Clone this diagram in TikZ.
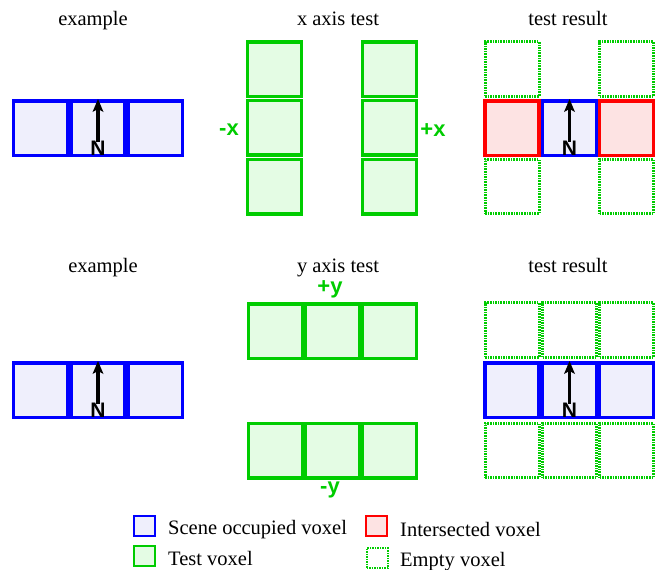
\documentclass[tikz,border=0pt]{standalone}
\usepackage{fontspec}
\setmainfont{Liberation Serif}
\newfontfamily\lblfont{Liberation Sans Bold}
\usetikzlibrary{arrows.meta}
\definecolor{vblue}{HTML}{0000FF}
\definecolor{vbluefill}{HTML}{EFEFFC}
\definecolor{vgreen}{HTML}{00CC00}
\definecolor{vgreenfill}{HTML}{E4FCE4}
\definecolor{vred}{HTML}{FF0000}
\definecolor{vredfill}{HTML}{FDE3E3}
\tikzset{
  cell/.style={rectangle, inner sep=0pt, line width=3.5pt, minimum width=54pt, minimum height=54.5pt},
  bluebox/.style={cell, draw=vblue, fill=vbluefill},
  greenbox/.style={cell, draw=vgreen, fill=vgreenfill},
  redbox/.style={cell, draw=vred, fill=vredfill},
  emptybox/.style={cell, draw=vgreen, line width=3pt, dash pattern=on 1.6pt off 1pt},
  title/.style={font=\fontsize{20.5}{24}\selectfont, anchor=base},
  axlbl/.style={font=\lblfont\fontsize{22}{26}\selectfont, text=vgreen},
  nlbl/.style={font=\lblfont\fontsize{21}{24}\selectfont, inner sep=0pt, anchor=base},
  upshaft/.style={draw=black, line width=3.5pt},
  uphead/.style={fill=black, draw=none},
  legbox/.style={rectangle, inner sep=0pt, line width=2pt, minimum width=21pt, minimum height=20pt},
  legtxt/.style={font=\fontsize{20.5}{24}\selectfont, anchor=base west, inner sep=0pt},
}
% arrow: shaft from N top to below head, then filled head
\newcommand{\uparrowfromto}[2]{%
  \path[upshaft] ([yshift=-1pt]#1.north) -- ([yshift=-10pt]#2.north);
  \path[uphead] ([yshift=0pt]#2.north) -- ([xshift=-5.5pt,yshift=-13pt]#2.north) -- ([yshift=-10pt]#2.north) -- ([xshift=5.5pt,yshift=-13pt]#2.north) -- cycle;
}
\begin{document}
\begin{tikzpicture}[x=1pt,y=-1pt]
\useasboundingbox (0,0) rectangle (657,570);
% titles
\node[title] (t1) at (93,25) {example};
\node[title] (t2) at (338,25) {x axis test};
\node[title] (t3) at (568,25) {test result};
\node[title] (t4) at (103,272) {example};
\node[title] (t5) at (338,272) {y axis test};
\node[title] (t6) at (568,272) {test result};

% top example
\node[bluebox] (ea1) at (40.5,128) {};
\node[bluebox] (ea2) at (98,128) {};
\node[bluebox] (ea3) at (155.5,128) {};
\node[nlbl] (na) at (98,155.5) {N};
\uparrowfromto{na}{ea2}

% x axis test
\node[greenbox] (xl1) at (274.5,69) {};
\node[greenbox] (xl2) at (274.5,127.5) {};
\node[greenbox] (xl3) at (274.5,186.5) {};
\node[greenbox] (xr1) at (389.5,69) {};
\node[greenbox] (xr2) at (389.5,127.5) {};
\node[greenbox] (xr3) at (389.5,186.5) {};
\node[axlbl] (mx) at (229,130) {-x};
\node[axlbl] (px) at (433,130) {+x};

% top test result
\node[emptybox] (ra1) at (512,69) {};
\node[emptybox] (ra2) at (626.5,69) {};
\node[emptybox] (ra3) at (512,186.5) {};
\node[emptybox] (ra4) at (626.5,186.5) {};
\node[redbox] (rr1) at (512,128) {};
\node[bluebox] (rb1) at (569.5,128) {};
\node[redbox] (rr2) at (626.5,128) {};
\node[nlbl] (nb) at (569.5,155.5) {N};
\uparrowfromto{nb}{rb1}

% bottom example
\node[bluebox] (eb1) at (40.5,390) {};
\node[bluebox] (eb2) at (98,390) {};
\node[bluebox] (eb3) at (155.5,390) {};
\node[nlbl] (nc) at (98,417.5) {N};
\uparrowfromto{nc}{eb2}

% y axis test
\node[greenbox] (yt1) at (275.5,331) {};
\node[greenbox] (yt2) at (332.5,331) {};
\node[greenbox] (yt3) at (389.5,331) {};
\node[greenbox] (yb1) at (275.5,450.5) {};
\node[greenbox] (yb2) at (332.5,450.5) {};
\node[greenbox] (yb3) at (389.5,450.5) {};
\node[axlbl] (py) at (330,289) {+y};
\node[axlbl] (my) at (330,490) {-y};

% bottom test result
\node[emptybox] (g11) at (512,330) {};
\node[emptybox] (g12) at (569.5,330) {};
\node[emptybox] (g13) at (626.5,330) {};
\node[emptybox] (g21) at (512,390) {};
\node[emptybox] (g22) at (569.5,390) {};
\node[emptybox] (g23) at (626.5,390) {};
\node[emptybox] (g31) at (512,450.5) {};
\node[emptybox] (g32) at (569.5,450.5) {};
\node[emptybox] (g33) at (626.5,450.5) {};
\node[bluebox] (rc1) at (512,390) {};
\node[bluebox] (rc2) at (569.5,390) {};
\node[bluebox] (rc3) at (626.5,390) {};
\node[nlbl] (nd) at (569.5,417.5) {N};
\uparrowfromto{nd}{rc2}

% legend
\node[legbox, draw=vblue, fill=vbluefill] (l1) at (144.5,526) {};
\node[legtxt] (lt1) at (168,534) {Scene occupied voxel};
\node[legbox, draw=vgreen, fill=vgreenfill] (l2) at (144.5,556) {};
\node[legtxt] (lt2) at (168,565) {Test voxel};
\node[legbox, draw=vred, fill=vredfill] (l3) at (376.5,526) {};
\node[legtxt] (lt3) at (400,536) {Intersected voxel};
\node[legbox, draw=vgreen, dash pattern=on 1.5pt off 1pt] (l4) at (377,558) {};
\node[legtxt] (lt4) at (400,566) {Empty voxel};
\end{tikzpicture}
\end{document}
